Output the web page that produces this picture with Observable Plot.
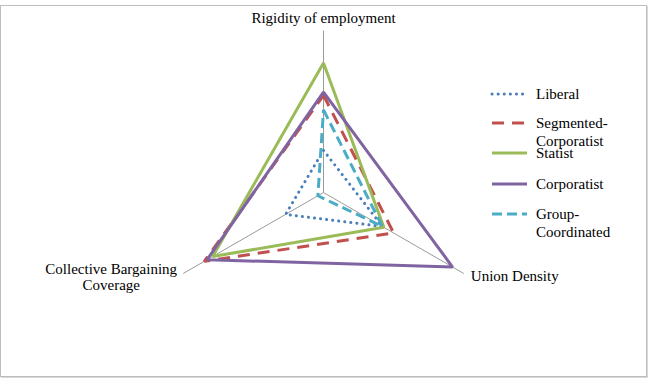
<!DOCTYPE html>
<html>
<head>
<meta charset="utf-8">
<script src="https://cdn.jsdelivr.net/npm/d3@7"></script>
<script src="https://cdn.jsdelivr.net/npm/@observablehq/plot@0.6"></script>
<style>
  html, body { margin: 0; padding: 0; background: #fff; }
  #wrap { position: relative; width: 648px; height: 381px; overflow: hidden; background: #fff; font-family: "Liberation Serif", "Times New Roman", serif; }
  #frame { position: absolute; left: 0px; top: 5px; width: 645px; height: 370px; border: 1px solid #bdbdbd; box-shadow: 1px 1px 0 #d8d8d8; pointer-events: none; }
  #chart { position: absolute; left: 0; top: 0; }
  #legend { position: absolute; left: 490px; top: 84px; font-family: "Liberation Serif", "Times New Roman", serif; font-size: 15px; color: #000; line-height: 18px; }
  .item { position: absolute; left: 0; white-space: nowrap; }
  .item svg { position: absolute; left: 0; }
  .item span { position: absolute; left: 46px; }
</style>
</head>
<body>
<div id="wrap">
  <div id="frame"></div>
  <div id="chart"></div>
  <div id="legend"></div>
</div>
<script>
// Axes (categories) of the radar chart
const categories = ["Rigidity of employment", "Union Density", "Collective Bargaining Coverage"];
const categoryLabels = ["Rigidity of employment", "Union Density", "Collective Bargaining\nCoverage"];
const angles = [90, -30, 210]; // degrees, direction of each axis

// Series (values as share of axis maximum)
const seriesNames = ["Liberal", "Segmented-Corporatist", "Statist", "Corporatist", "Group-Coordinated"];
const liberal = [0.26, 0.42, 0.27];
const segmentedCorporatist = [0.60, 0.50, 0.85];
const statist = [0.80, 0.43, 0.79];
const corporatist = [0.62, 0.92, 0.83];
const groupCoordinated = [0.51, 0.42, 0.04];

const seriesValues = [liberal, segmentedCorporatist, statist, corporatist, groupCoordinated];
const seriesStyle = [
  {stroke: "#4a7ebb", dash: "0.1 6", cap: "round", width: 3},
  {stroke: "#c0504d", dash: "12 8", cap: "butt", width: 3},
  {stroke: "#9bbb59", dash: null, cap: "butt", width: 3},
  {stroke: "#8064a2", dash: null, cap: "butt", width: 3},
  {stroke: "#4bacc6", dash: "10 5", cap: "butt", width: 3}
];

const rad = d => d * Math.PI / 180;
const polar = (v, i) => ({x: v * Math.cos(rad(angles[i])), y: v * Math.sin(rad(angles[i]))});

const axisData = categories.map((c, i) => ({name: c, label: categoryLabels[i], ...polar(1, i)}));

const seriesMarks = seriesNames.map((name, s) => {
  const pts = seriesValues[s].map((v, i) => ({series: name, axis: categories[i], ...polar(v, i)}));
  const st = seriesStyle[s];
  const opts = {x: "x", y: "y", curve: "linear-closed", stroke: st.stroke, strokeWidth: st.width, strokeLinecap: st.cap, strokeLinejoin: "miter"};
  if (st.dash) opts.strokeDasharray = st.dash;
  return Plot.line(pts, opts);
});

const chart = Plot.plot({
  width: 648,
  height: 381,
  marginLeft: 161,
  marginRight: 163,
  marginTop: 30,
  marginBottom: 27,
  x: {domain: [-1, 1], axis: null},
  y: {domain: [-1, 1], axis: null},
  style: {background: "transparent", fontFamily: "'Liberation Serif', 'Times New Roman', serif", fontSize: "15px", color: "#000"},
  marks: [
    Plot.link(axisData, {x1: 0, y1: 0, x2: "x", y2: "y", stroke: "#9a9a9a", strokeWidth: 1}),
    ...seriesMarks,
    Plot.text([axisData[0]], {x: "x", y: "y", text: "label", dy: -12, textAnchor: "middle", fontSize: 15, fill: "#000"}),
    Plot.text([axisData[1]], {x: "x", y: "y", text: "label", dx: 7, dy: 3, textAnchor: "start", fontSize: 15, fill: "#000"}),
    Plot.text([axisData[2]], {x: "x", y: "y", text: "label", dx: -72, dy: 3, textAnchor: "middle", lineHeight: 1.1, fontSize: 15, fill: "#000"})
  ]
});
document.getElementById("chart").appendChild(chart);

// Legend
const legendTops = [0, 29, 59, 90, 120];
const legend = document.getElementById("legend");
seriesNames.forEach((name, s) => {
  const st = seriesStyle[s];
  const item = document.createElement("div");
  item.className = "item";
  item.style.top = legendTops[s] + "px";
  const svg = d3.create("svg").attr("width", 40).attr("height", 20).style("top", "0px");
  svg.append("line").attr("x1", 2).attr("x2", 37).attr("y1", 10).attr("y2", 10)
    .attr("stroke", st.stroke).attr("stroke-width", st.width)
    .attr("stroke-linecap", st.cap)
    .attr("stroke-dasharray", st.dash || null);
  item.appendChild(svg.node());
  const span = document.createElement("span");
  span.style.top = "1px";
  const parts = name === "Segmented-Corporatist" ? ["Segmented-", "Corporatist"] : name === "Group-Coordinated" ? ["Group-", "Coordinated"] : [name];
  span.innerHTML = parts.join("<br>");
  item.appendChild(span);
  legend.appendChild(item);
});
</script>
</body>
</html>
